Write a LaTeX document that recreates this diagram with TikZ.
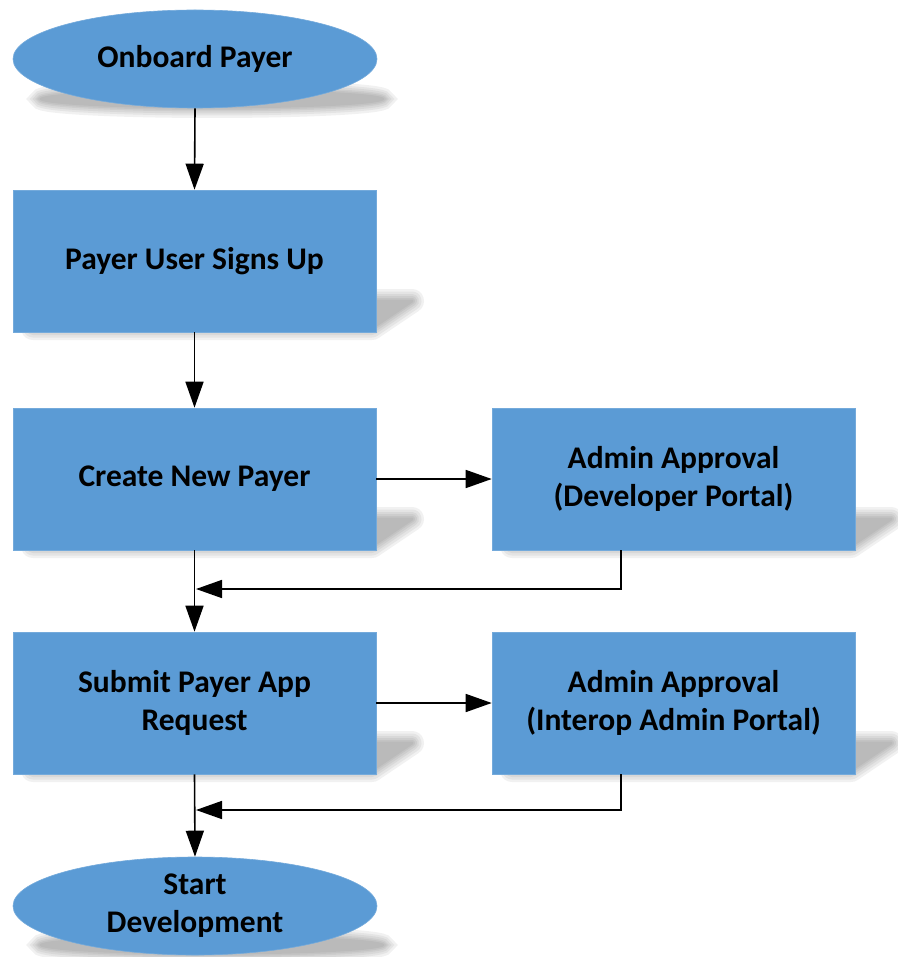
\documentclass[tikz,border=0pt]{standalone}
\usepackage{fontspec}
\setmainfont{Carlito}
\usetikzlibrary{arrows.meta,shapes.geometric}
\definecolor{boxblue}{HTML}{5B9BD5}
\newcommand{\pshadow}[3]{%
  \foreach \rr in {24,19,14,10,6,3}{%
    \begin{scope}[transparency group, opacity=0.085]
      \filldraw[black!65, line width=\rr pt, line join=round]
        (#1+20,#3-4) -- (#2-4,#3-4) -- (#2+36,#3-31) -- (#1+62,#3-31) -- cycle;
    \end{scope}}}
\newcommand{\eshadow}[2]{%
  \foreach \rr in {20,15,11,7,4,1}{%
    \begin{scope}[transparency group, opacity=0.085]
      \filldraw[black!65, line width=\rr pt] (#1,#2) ellipse [x radius=172pt, y radius=9pt];
    \end{scope}}}
\begin{document}
\begin{tikzpicture}[x=1pt,y=-1pt,
  txt/.style={font=\fontsize{31.5}{38}\selectfont\bfseries, text=black, align=center},
  stepbox/.style={rectangle, fill=boxblue, draw=boxblue!85!white, line width=0.6pt,
    minimum width=363pt, minimum height=142pt, inner sep=0pt, txt},
  term/.style={ellipse, fill=boxblue, draw=boxblue!85!white, line width=0.6pt,
    minimum width=364pt, minimum height=98pt, inner sep=0pt, txt},
  arr/.style={draw=black, line width=1.6pt, -{Triangle[length=26pt,width=18pt]}}]
\useasboundingbox (0,0) rectangle (897,957);
% shadows
\eshadow{212}{99}
\eshadow{212}{945}
\pshadow{13}{376}{332}
\pshadow{13}{376}{550}
\pshadow{492}{855}{550}
\pshadow{13}{376}{774}
\pshadow{492}{855}{774}
% nodes
\node[term] (start) at (195,59) {Onboard Payer};
\node[stepbox] (b1) at (194.5,261) {Payer User Signs Up};
\node[stepbox] (b2) at (194.5,479) {Create New Payer};
\node[stepbox] (a1) at (673.5,479) {Admin Approval\\(Developer Portal)};
\node[stepbox] (b3) at (194.5,703) {Submit Payer App\\Request};
\node[stepbox] (a2) at (673.5,703) {Admin Approval\\(Interop Admin Portal)};
\node[term] (end) at (195,906) {Start\\Development};
\coordinate (j1) at (196,589);
\coordinate (j2) at (196,810);
% connectors
\draw[arr] (start.south) -- (b1.north);
\draw[arr] (b1.south) -- (b2.north);
\draw[arr] (b2.east) -- (a1.west);
\draw[arr] (b2.south) -- (b3.north);
\draw[arr] ([xshift=-52.5pt]a1.south) |- (j1);
\draw[arr] (b3.east) -- (a2.west);
\draw[arr] (b3.south) -- (end.north);
\draw[arr] ([xshift=-52.5pt]a2.south) |- (j2);
\end{tikzpicture}
\end{document}
